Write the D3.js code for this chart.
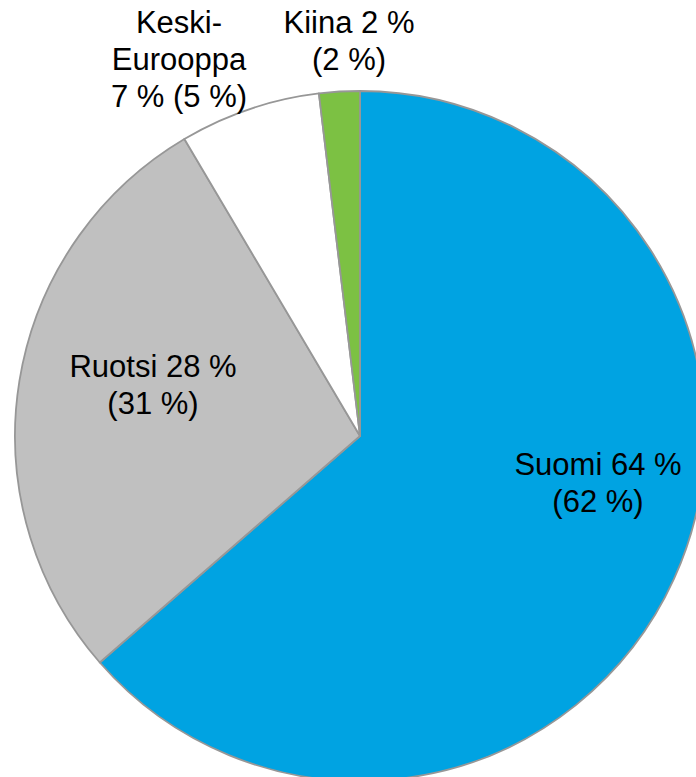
<!DOCTYPE html>
<html>
<head>
<meta charset="utf-8">
<script src="https://cdn.jsdelivr.net/npm/d3@7"></script>
<style>
  body { margin: 0; background: #fff; }
  text { font-family: "Liberation Sans", Arial, sans-serif; fill: #000; }
</style>
</head>
<body>
<div id="chart-area"></div>
<script>
// shares, labels show the rounded figures
var categories = ['Suomi', 'Ruotsi', 'Keski-Eurooppa', 'Kiina'];
var shares = [63.6, 27.9, 6.6, 1.9];
var labelNow = ['64 %', '28 %', '7 %', '2 %'];
var labelPrev = ['(62 %)', '(31 %)', '(5 %)', '(2 %)'];

var colors = ['#00a3e2', '#c0c0c0', '#ffffff', '#7cc143'];

var width = 696;
var height = 777;
var cx = 360, cy = 436, radius = 345;

// label lines and offset of the first baseline from the pie centre
var labelLayout = {
    'Suomi': { dx: 238, dy: 39, lines: function (i) { return ['Suomi ' + labelNow[i], labelPrev[i]]; } },
    'Ruotsi': { dx: -207, dy: -59, lines: function (i) { return ['Ruotsi ' + labelNow[i], labelPrev[i]]; } },
    'Keski-Eurooppa': { dx: -181, dy: -403, lines: function (i) { return ['Keski-', 'Eurooppa', labelNow[i] + ' ' + labelPrev[i]]; } },
    'Kiina': { dx: -11, dy: -403, lines: function (i) { return ['Kiina ' + labelNow[i], labelPrev[i]]; } }
};
var lineHeight = 37;

var svg = d3.select('#chart-area')
    .append('svg')
    .attr('width', width)
    .attr('height', height);

var g = svg.append('g')
    .attr('transform', 'translate(' + cx + ',' + cy + ')');

var pie = d3.pie()
    .sort(null)
    .value(function (d) { return d; });

var arc = d3.arc()
    .innerRadius(0)
    .outerRadius(radius);

var arcs = pie(shares);

g.selectAll('path')
    .data(arcs)
    .enter()
    .append('path')
    .attr('d', arc)
    .attr('fill', function (d, i) { return colors[i]; })
    .attr('stroke', '#979797')
    .attr('stroke-width', 1.8)
    .attr('stroke-linejoin', 'round');

categories.forEach(function (c, i) {
    var l = labelLayout[c];
    var t = g.append('text')
        .attr('text-anchor', 'middle')
        .attr('font-size', 31);
    l.lines(i).forEach(function (s, k) {
        t.append('tspan')
            .attr('x', l.dx)
            .attr('y', l.dy + k * lineHeight)
            .text(s);
    });
});
</script>
</body>
</html>
